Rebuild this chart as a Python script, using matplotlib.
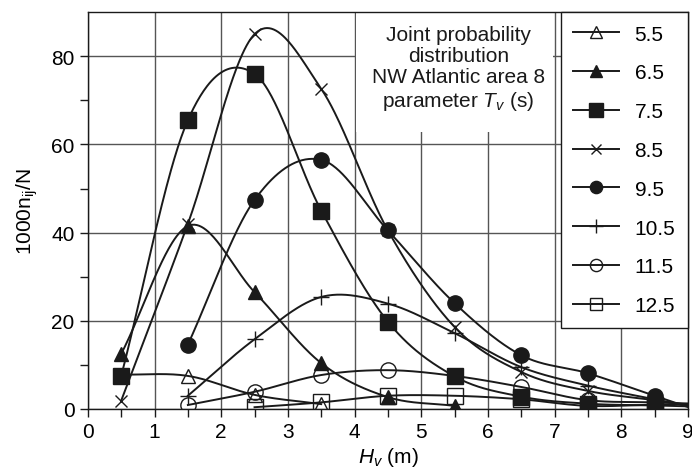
import numpy as np
import matplotlib
matplotlib.use('Agg')
import matplotlib.pyplot as plt
from matplotlib.patches import Rectangle
from matplotlib.lines import Line2D

plt.rcParams['font.family'] = ['Liberation Sans', 'DejaVu Sans']
plt.rcParams['mathtext.fontset'] = 'custom'
plt.rcParams['mathtext.rm'] = 'Liberation Sans'
plt.rcParams['mathtext.it'] = 'Liberation Sans:italic'

# Hv class centres (m) and 1000 n_ij / N for each Tv class
hv_5_5 = [0.5, 1.5, 2.5, 3.5]
val_5_5 = [7.8, 7.5, 3.2, 1.1]
hv_6_5 = [0.5, 1.5, 2.5, 3.5, 4.5, 5.5]
val_6_5 = [12.5, 41.5, 26.5, 10.4, 2.7, 0.7]
hv_7_5 = [0.5, 1.5, 2.5, 3.5, 4.5, 5.5, 6.5, 7.5, 8.5]
val_7_5 = [7.5, 65.5, 76.0, 45.0, 19.8, 7.4, 2.8, 1.2, 0.8]
hv_8_5 = [0.5, 1.5, 2.5, 3.5, 4.5, 5.5, 6.5, 7.5, 8.5]
val_8_5 = [1.9, 42.0, 85.0, 72.6, 40.5, 18.6, 8.4, 4.1, 2.0]
hv_9_5 = [1.5, 2.5, 3.5, 4.5, 5.5, 6.5, 7.5, 8.5]
val_9_5 = [14.6, 47.4, 56.5, 40.5, 24.0, 12.2, 8.1, 3.0]
hv_10_5 = [1.5, 2.5, 3.5, 4.5, 5.5, 6.5, 7.5, 8.5]
val_10_5 = [3.0, 15.8, 25.4, 23.9, 17.2, 9.5, 5.3, 2.2]
hv_11_5 = [1.5, 2.5, 3.5, 4.5, 5.5, 6.5, 7.5, 8.5]
val_11_5 = [0.9, 3.9, 7.7, 8.8, 7.5, 5.0, 2.0, 1.5]
hv_12_5 = [2.5, 3.5, 4.5, 5.5, 6.5, 7.5, 8.5]
val_12_5 = [0.4, 1.5, 3.0, 3.0, 2.2, 0.7, 1.0]

labels = ['5.5', '6.5', '7.5', '8.5', '9.5', '10.5', '11.5', '12.5']
series = [(hv_5_5, val_5_5), (hv_6_5, val_6_5), (hv_7_5, val_7_5), (hv_8_5, val_8_5),
          (hv_9_5, val_9_5), (hv_10_5, val_10_5), (hv_11_5, val_11_5), (hv_12_5, val_12_5)]

# marker, filled?, size
styles = [('^', False, 10), ('^', True, 10), ('s', True, 12), ('x', True, 9),
          ('o', True, 11), ('+', True, 12), ('o', False, 11), ('s', False, 11)]

INK = '#1a1a1a'
FS = 15


def smooth(x, y, x_end):
    # Catmull-Rom style smoothed line, straight past the last point
    x = np.asarray(x, float)
    y = np.asarray(y, float)
    n = len(x)
    m = np.empty(n)
    m[0] = (y[1] - y[0]) / (x[1] - x[0])
    m[-1] = (y[-1] - y[-2]) / (x[-1] - x[-2])
    for i in range(1, n - 1):
        m[i] = (y[i + 1] - y[i - 1]) / (x[i + 1] - x[i - 1])
    xs_all, ys_all = [], []
    for i in range(n - 1):
        h = x[i + 1] - x[i]
        t = np.linspace(0, 1, 60)
        h00 = 2 * t ** 3 - 3 * t ** 2 + 1
        h10 = t ** 3 - 2 * t ** 2 + t
        h01 = -2 * t ** 3 + 3 * t ** 2
        h11 = t ** 3 - t ** 2
        xs_all.append(x[i] + t * h)
        ys_all.append(h00 * y[i] + h10 * h * m[i] + h01 * y[i + 1] + h11 * h * m[i + 1])
    if x_end > x[-1]:
        xs_all.append(np.array([x[-1], x_end]))
        ys_all.append(np.array([y[-1], y[-1] + m[-1] * (x_end - x[-1])]))
    return np.concatenate(xs_all), np.concatenate(ys_all)


fig = plt.figure(figsize=(6.92, 4.77), dpi=100)
ax = fig.add_axes([0.127, 0.1405, 0.867, 0.832])

handles = []
for (x, y), lab, (mk, filled, ms) in zip(series, labels, styles):
    x_end = 9.0 if x[-1] >= 8.5 else x[-1]
    xs, ys = smooth(x, y, x_end)
    ax.plot(xs, ys, color=INK, lw=1.4, zorder=3)
    fc = INK if filled else 'none'
    ax.plot(x, y, ls='none', marker=mk, ms=ms, mfc=fc, mec=INK, mew=1.0, zorder=4)
    handles.append(Line2D([], [], color=INK, lw=1.4, marker=mk, ms=ms * 0.8,
                          mfc=fc, mec=INK, label=lab))

ax.set_xlim(0, 9)
ax.set_ylim(0, 90)
ax.set_xticks(np.arange(0, 10, 1))
ax.set_xticks(np.arange(0.5, 9, 1), minor=True)
ax.set_yticks(np.arange(0, 81, 20))
ax.set_yticks(np.arange(10, 90, 20), minor=True)
ax.tick_params(which='both', direction='out', length=6, width=1, labelsize=FS, color=INK)
ax.grid(True, which='major', color='#555555', lw=1, zorder=1)
for s in ax.spines.values():
    s.set_color(INK)
    s.set_linewidth(1)

# white panel behind the annotation
ax.add_patch(Rectangle((4.02, 62.8), 2.96, 28, facecolor='white', edgecolor='none', zorder=2))
ax.text(5.56, 77.3, 'Joint probability\ndistribution\nNW Atlantic area 8\nparameter $T_v$ (s)',
        ha='center', va='center', fontsize=FS, linespacing=1.15, color=INK, zorder=5)

leg = ax.legend(handles=handles, loc='upper right', bbox_to_anchor=(1, 1), borderaxespad=0,
                fontsize=FS, handlelength=2.2, labelspacing=0.95, handletextpad=0.75,
                borderpad=0.6, fancybox=False, framealpha=1, edgecolor=INK)
leg.get_frame().set_linewidth(1)
leg.set_zorder(6)

ax.set_xlabel('$H_v$ (m)', fontsize=FS, labelpad=3)
ax.set_ylabel('1000n$_{\\rm ij}$/N', fontsize=FS, labelpad=8)

fig.savefig('out.png', dpi=100)
